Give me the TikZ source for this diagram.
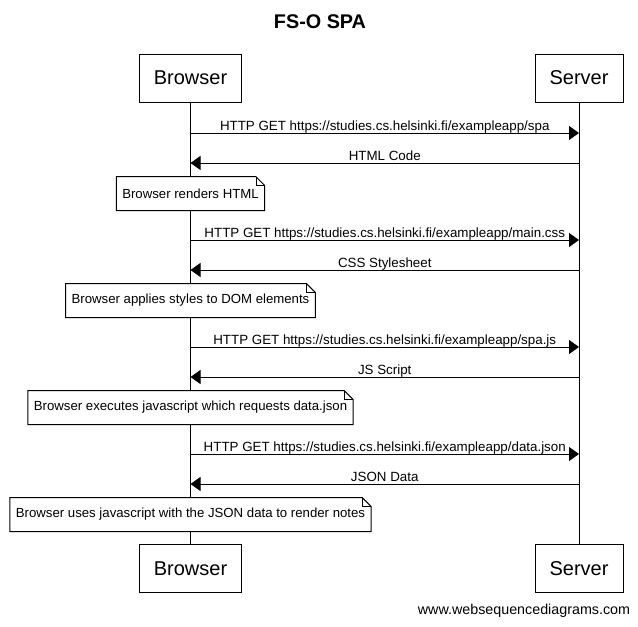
\documentclass[tikz,border=0pt]{standalone}
\usepackage{fontspec}
\setmainfont{Liberation Sans}
\usetikzlibrary{arrows.meta}

\begin{document}
\begin{tikzpicture}[x=1pt, y=-1pt, line width=1pt,
		actor/.style={draw, fill=white, minimum height=48pt, inner sep=0pt, font=\fontsize{20}{24}\selectfont},
		msg/.style={-{Triangle[length=10pt,width=14pt]}},
		lbl/.style={midway, anchor=base, yshift=3pt, inner sep=0pt, font=\fontsize{13.35}{15}\selectfont},
		note/.style={fill=white, minimum height=33pt, inner xsep=5.5pt, inner ysep=0pt, font=\fontsize{13.2}{15}\selectfont}]
				\useasboundingbox (0,0) rectangle (638,627);
				\node [font=\bfseries\fontsize{19.8}{23}\selectfont] (title) at (320,22) {FS-O SPA};
				\node [actor, minimum width=102pt] (bt) at (190.5,78) {Browser};
				\node [actor, minimum width=88pt] (st) at (579,78) {Server};
				\node [actor, minimum width=102pt] (bb) at (190.5,568.5) {Browser};
				\node [actor, minimum width=88pt] (sb) at (579,568.5) {Server};
				\draw (bt) -- (bb);
				\draw (st) -- (sb);
				% requests and answers
				\draw [msg] (bt |- 0,133) -- node [lbl] {HTTP GET https://studies.cs.helsinki.fi/exampleapp/spa} (st |- 0,133);
				\draw [msg] (st |- 0,163) -- node [lbl] {HTML Code} (bt |- 0,163);
				\draw [msg] (bt |- 0,240) -- node [lbl] {HTTP GET https://studies.cs.helsinki.fi/exampleapp/main.css} (st |- 0,240);
				\draw [msg] (st |- 0,270) -- node [lbl] {CSS Stylesheet} (bt |- 0,270);
				\draw [msg] (bt |- 0,347) -- node [lbl] {HTTP GET https://studies.cs.helsinki.fi/exampleapp/spa.js} (st |- 0,347);
				\draw [msg] (st |- 0,377) -- node [lbl] {JS Script} (bt |- 0,377);
				\draw [msg] (bt |- 0,454) -- node [lbl] {HTTP GET https://studies.cs.helsinki.fi/exampleapp/data.json} (st |- 0,454);
				\draw [msg] (st |- 0,484) -- node [lbl] {JSON Data} (bt |- 0,484);
				% notes on the browser
				\node [note] (n1) at (190.5,193.5) {Browser renders HTML};
				\node [note] (n2) at (190.5,300.5) {Browser applies styles to DOM elements};
				\node [note] (n3) at (190.5,407.5) {Browser executes javascript which requests data.json};
				\node [note] (n4) at (190.5,514.5) {Browser uses javascript with the JSON data to render notes};
				\foreach \n in {n1,n2,n3,n4} {
					\draw (\n.north west) -- ([xshift=-9pt]\n.north east) -- ([yshift=-9pt]\n.north east) -- (\n.south east) -- (\n.south west) -- cycle;
					\draw [thin] ([xshift=-9pt]\n.north east) |- ([yshift=-9pt]\n.north east);
				}
				\node [font=\fontsize{14.3}{17}\selectfont] (credit) at (524,611) {www.websequencediagrams.com};
			\end{tikzpicture}
\end{document}
